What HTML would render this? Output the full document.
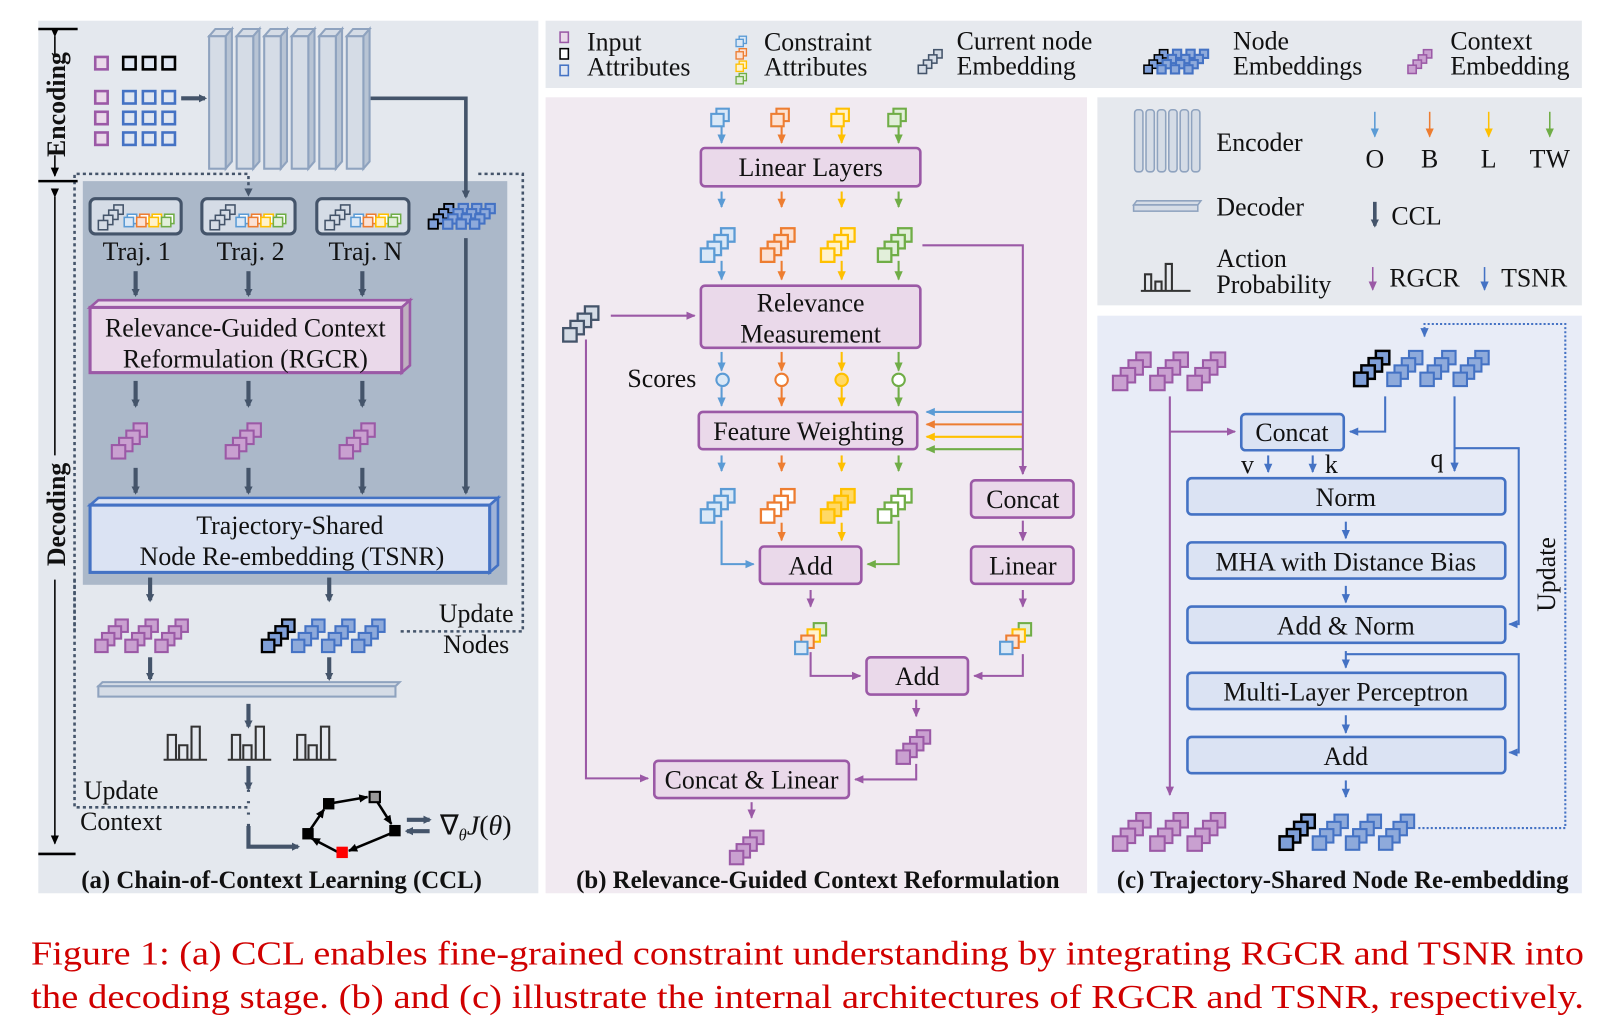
<!DOCTYPE html>
<html><head><meta charset="utf-8"><style>
html,body{margin:0;padding:0;background:#fff;}
svg{display:block;}
text{font-family:"Liberation Serif",serif;fill:#111;}
</style></head><body>
<svg id="s" width="1615" height="1033" viewBox="0 0 1560 998" preserveAspectRatio="none" xmlns="http://www.w3.org/2000/svg">
<defs>
<marker id="ad" markerWidth="8" markerHeight="8" refX="6" refY="4" orient="auto" markerUnits="userSpaceOnUse"><path d="M0,0 L8,4 L0,8 z" fill="#44546a"/></marker>
<marker id="ap" markerWidth="10" markerHeight="10" refX="8" refY="5" orient="auto" markerUnits="userSpaceOnUse"><path d="M0,1 L9,5 L0,9 z" fill="#9b59a6"/></marker>
<marker id="ab" markerWidth="10" markerHeight="10" refX="8" refY="5" orient="auto" markerUnits="userSpaceOnUse"><path d="M0,1 L9,5 L0,9 z" fill="#4472c4"/></marker>
<marker id="abl" markerWidth="10" markerHeight="10" refX="8" refY="5" orient="auto" markerUnits="userSpaceOnUse"><path d="M0,1 L9,5 L0,9 z" fill="#5b9bd5"/></marker>
<marker id="ao" markerWidth="10" markerHeight="10" refX="8" refY="5" orient="auto" markerUnits="userSpaceOnUse"><path d="M0,1 L9,5 L0,9 z" fill="#ed7d31"/></marker>
<marker id="ay" markerWidth="10" markerHeight="10" refX="8" refY="5" orient="auto" markerUnits="userSpaceOnUse"><path d="M0,1 L9,5 L0,9 z" fill="#ffc000"/></marker>
<marker id="ag" markerWidth="10" markerHeight="10" refX="8" refY="5" orient="auto" markerUnits="userSpaceOnUse"><path d="M0,1 L9,5 L0,9 z" fill="#70ad47"/></marker>
<marker id="ak" markerWidth="10" markerHeight="10" refX="8" refY="5" orient="auto" markerUnits="userSpaceOnUse"><path d="M0,1 L9,5 L0,9 z" fill="#000"/></marker>
</defs>

<rect x="37" y="20" width="483" height="843" fill="#e4e8ee"/>
<rect x="527" y="20" width="1001" height="65" fill="#e6e9ee"/>
<rect x="527" y="94" width="523" height="769" fill="#f1eaf1"/>
<rect x="1060" y="94" width="468" height="201" fill="#e6e9ee"/>
<rect x="1060" y="305" width="468" height="558" fill="#e8ecf7"/>

<!-- ========== Panel a ========== -->
<rect x="80" y="175" width="410" height="390" fill="#abb8c9"/>
<path d="M72,610 V168 H240 V188" fill="none" stroke="#44546a" stroke-width="2.5" stroke-dasharray="3,3" marker-end="url(#ad)"/>
<path d="M462,168 H505 V610 H385" fill="none" stroke="#44546a" stroke-width="2.5" stroke-dasharray="3,3"/>
<path d="M72,560 V780 H240" fill="none" stroke="#44546a" stroke-width="2.5" stroke-dasharray="3,3"/>
<line x1="37" y1="28" x2="75" y2="28" stroke="#000" stroke-width="2.5"/>
<line x1="37" y1="175" x2="75" y2="175" stroke="#000" stroke-width="2.5"/>
<line x1="37" y1="825" x2="73" y2="825" stroke="#000" stroke-width="2.5"/>
<line x1="53" y1="35" x2="53" y2="55" stroke="#000" stroke-width="1.5" marker-start="url(#ak)"/>
<line x1="53" y1="150" x2="53" y2="170" stroke="#000" stroke-width="1.5" marker-end="url(#ak)"/>
<line x1="53" y1="190" x2="53" y2="440" stroke="#000" stroke-width="1.5" marker-start="url(#ak)"/>
<line x1="53" y1="560" x2="53" y2="815" stroke="#000" stroke-width="1.5" marker-end="url(#ak)"/>
<text transform="translate(63,101) rotate(-90)" text-anchor="middle" font-size="25" font-weight="bold">Encoding</text>
<text transform="translate(63,497) rotate(-90)" text-anchor="middle" font-size="25" font-weight="bold">Decoding</text>
<g id="enc"></g>
<line x1="175" y1="95" x2="198" y2="95" stroke="#44546a" stroke-width="4" marker-end="url(#ad)"/>
<path d="M358,95 H450 V190" fill="none" stroke="#44546a" stroke-width="3.5" marker-end="url(#ad)"/>
<rect x="87" y="192" width="88" height="34" rx="5" fill="#d5dce6" stroke="#44546a" stroke-width="3"/>
<rect x="195" y="192" width="90" height="34" rx="5" fill="#d5dce6" stroke="#44546a" stroke-width="3"/>
<rect x="306" y="192" width="89" height="34" rx="5" fill="#d5dce6" stroke="#44546a" stroke-width="3"/>
<text x="132" y="251" font-size="25" text-anchor="middle">Traj. 1</text>
<text x="242" y="251" font-size="25" text-anchor="middle">Traj. 2</text>
<text x="353" y="251" font-size="25" text-anchor="middle">Traj. N</text>
<g stroke="#44546a" stroke-width="4" marker-end="url(#ad)">
<line x1="131" y1="262" x2="131" y2="285"/><line x1="240" y1="262" x2="240" y2="285"/><line x1="350" y1="262" x2="350" y2="285"/>
<line x1="131" y1="368" x2="131" y2="392"/><line x1="240" y1="368" x2="240" y2="392"/><line x1="350" y1="368" x2="350" y2="392"/>
<line x1="131" y1="452" x2="131" y2="476"/><line x1="240" y1="452" x2="240" y2="476"/><line x1="350" y1="452" x2="350" y2="476"/>
<line x1="145" y1="558" x2="145" y2="580"/><line x1="318" y1="558" x2="318" y2="580"/>
<line x1="145" y1="635" x2="145" y2="656"/><line x1="318" y1="635" x2="318" y2="656"/>
<line x1="240" y1="680" x2="240" y2="702"/><line x1="240" y1="740" x2="240" y2="762"/>
</g>
<path d="M450,230 V476" stroke="#44546a" stroke-width="3.5" marker-end="url(#ad)" fill="none"/>
<path d="M87,297 L95,290 H396 L388,297 z" fill="#ead9ea" stroke="#9b59a6" stroke-width="2.5"/>
<path d="M388,297 L396,290 V353 L388,360 z" fill="#c0b0c0" stroke="#9b59a6" stroke-width="2.5"/>
<rect x="87" y="297" width="301" height="63" fill="#ead9ea" stroke="#9b59a6" stroke-width="3"/>
<text x="237" y="325" font-size="25" text-anchor="middle">Relevance-Guided Context</text>
<text x="237" y="355" font-size="25" text-anchor="middle">Reformulation (RGCR)</text>
<path d="M87,488 L95,481 H481 L473,488 z" fill="#dbe3f3" stroke="#4472c4" stroke-width="2.5"/>
<path d="M473,488 L481,481 V546 L473,553 z" fill="#9fb3d8" stroke="#4472c4" stroke-width="2.5"/>
<rect x="87" y="488" width="386" height="65" fill="#dbe3f3" stroke="#4472c4" stroke-width="3"/>
<text x="280" y="516" font-size="25" text-anchor="middle">Trajectory-Shared</text>
<text x="282" y="546" font-size="25" text-anchor="middle">Node Re-embedding (TSNR)</text>
<text x="460" y="601" font-size="25" text-anchor="middle">Update</text>
<text x="460" y="631" font-size="25" text-anchor="middle">Nodes</text>
<path d="M95,663 L99,659 H386 L382,663 z" fill="#d5dce6" stroke="#8fa3bf" stroke-width="2"/>
<rect x="95" y="663" width="287" height="10" fill="#d5dce6" stroke="#8fa3bf" stroke-width="2"/>
<g id="hist"></g>
<text x="117" y="772" font-size="25" text-anchor="middle">Update</text>
<text x="117" y="802" font-size="25" text-anchor="middle">Context</text>
<path d="M240,763 V800" stroke="#44546a" stroke-width="3" stroke-dasharray="2,9"/>
<path d="M240,798 V818 H288" fill="none" stroke="#44546a" stroke-width="4" marker-end="url(#ad)"/>
<g stroke="#000" stroke-width="2.5" fill="none" marker-end="url(#ak)">
<line x1="298" y1="804" x2="313" y2="782"/>
<line x1="320" y1="776" x2="355" y2="770"/>
<line x1="364" y1="774" x2="378" y2="796"/>
<line x1="378" y1="805" x2="337" y2="822"/>
<line x1="326" y1="823" x2="301" y2="810"/>
</g>
<rect x="312" y="771" width="11" height="11" fill="#000"/>
<rect x="357" y="765" width="10" height="10" fill="#999" stroke="#000" stroke-width="2"/>
<rect x="376" y="797" width="11" height="11" fill="#000"/>
<rect x="325" y="818" width="11" height="11" fill="#f00"/>
<rect x="292" y="800" width="11" height="11" fill="#000"/>
<line x1="393" y1="792" x2="415" y2="792" stroke="#44546a" stroke-width="4" marker-end="url(#ad)"/>
<line x1="415" y1="803" x2="393" y2="803" stroke="#44546a" stroke-width="4" marker-end="url(#ad)"/>
<text x="425" y="806" font-size="27">∇<tspan font-size="16" dy="6" font-style="italic">θ</tspan><tspan dy="-6" font-style="italic">J</tspan>(<tspan font-style="italic">θ</tspan>)</text>
<text x="272" y="858" font-size="24" font-weight="bold" text-anchor="middle">(a) Chain-of-Context Learning (CCL)</text>

<!-- ========== Legend bar ========== -->
<text x="567" y="49" font-size="25">Input</text><text x="567" y="73" font-size="25">Attributes</text>
<text x="738" y="49" font-size="25">Constraint</text><text x="738" y="73" font-size="25">Attributes</text>
<text x="924" y="48" font-size="25">Current node</text><text x="924" y="72" font-size="25">Embedding</text>
<text x="1191" y="48" font-size="25">Node</text><text x="1191" y="72" font-size="25">Embeddings</text>
<text x="1401" y="48" font-size="25">Context</text><text x="1401" y="72" font-size="25">Embedding</text>

<!-- ========== Panel b ========== -->
<rect x="677" y="143" width="212" height="37" rx="4" fill="#ead9ea" stroke="#9b59a6" stroke-width="2.5"/>
<text x="783" y="170" font-size="25" text-anchor="middle">Linear Layers</text>
<rect x="677" y="276" width="212" height="60" rx="4" fill="#ead9ea" stroke="#9b59a6" stroke-width="2.5"/>
<text x="783" y="301" font-size="25" text-anchor="middle">Relevance</text>
<text x="783" y="331" font-size="25" text-anchor="middle">Measurement</text>
<text x="606" y="374" font-size="25">Scores</text>
<rect x="675" y="398" width="211" height="36" rx="4" fill="#ead9ea" stroke="#9b59a6" stroke-width="2.5"/>
<text x="781" y="425" font-size="25" text-anchor="middle">Feature Weighting</text>
<rect x="938" y="464" width="99" height="36" rx="4" fill="#ead9ea" stroke="#9b59a6" stroke-width="2.5"/>
<text x="988" y="491" font-size="25" text-anchor="middle">Concat</text>
<rect x="938" y="528" width="99" height="36" rx="4" fill="#ead9ea" stroke="#9b59a6" stroke-width="2.5"/>
<text x="988" y="555" font-size="25" text-anchor="middle">Linear</text>
<rect x="734" y="528" width="98" height="36" rx="4" fill="#ead9ea" stroke="#9b59a6" stroke-width="2.5"/>
<text x="783" y="555" font-size="25" text-anchor="middle">Add</text>
<rect x="837" y="635" width="98" height="36" rx="4" fill="#ead9ea" stroke="#9b59a6" stroke-width="2.5"/>
<text x="886" y="662" font-size="25" text-anchor="middle">Add</text>
<rect x="632" y="735" width="188" height="36" rx="4" fill="#ead9ea" stroke="#9b59a6" stroke-width="2.5"/>
<text x="726" y="762" font-size="25" text-anchor="middle">Concat &amp; Linear</text>
<g id="barrows"></g>
<g fill="none" stroke-width="2">
<circle cx="698" cy="367" r="6" stroke="#5b9bd5" fill="#dbe8f6"/>
<circle cx="755" cy="367" r="6" stroke="#ed7d31" fill="#fff"/>
<circle cx="813" cy="367" r="6" stroke="#ffc000" fill="#ffd966"/>
<circle cx="868" cy="367" r="6" stroke="#70ad47" fill="#fff"/>
</g>
<g fill="none" stroke-width="2">
<line x1="988" y1="398" x2="895" y2="398" stroke="#5b9bd5" marker-end="url(#abl)"/>
<line x1="988" y1="410" x2="895" y2="410" stroke="#ed7d31" marker-end="url(#ao)"/>
<line x1="988" y1="422" x2="895" y2="422" stroke="#ffc000" marker-end="url(#ay)"/>
<line x1="988" y1="434" x2="895" y2="434" stroke="#70ad47" marker-end="url(#ag)"/>
<path d="M891,237 H988 V458" stroke="#9b59a6" marker-end="url(#ap)"/>
<path d="M590,305 H671" stroke="#9b59a6" marker-end="url(#ap)"/>
<path d="M566,328 V752 H626" stroke="#9b59a6" marker-end="url(#ap)"/>
<path d="M988,503 V522" stroke="#9b59a6" marker-end="url(#ap)"/>
<path d="M988,570 V586" stroke="#9b59a6" marker-end="url(#ap)"/>
<path d="M988,632 V653 H941" stroke="#9b59a6" marker-end="url(#ap)"/>
<path d="M783,570 V586" stroke="#9b59a6" marker-end="url(#ap)"/>
<path d="M783,630 V653 H831" stroke="#9b59a6" marker-end="url(#ap)"/>
<path d="M885,676 V692" stroke="#9b59a6" marker-end="url(#ap)"/>
<path d="M885,738 V753 H826" stroke="#9b59a6" marker-end="url(#ap)"/>
<path d="M726,775 V790" stroke="#9b59a6" marker-end="url(#ap)"/>
<path d="M697,503 V545 H728" stroke="#5b9bd5" marker-end="url(#abl)"/>
<path d="M868,503 V545 H838" stroke="#70ad47" marker-end="url(#ag)"/>
<path d="M755,505 V522" stroke="#ed7d31" marker-end="url(#ao)"/>
<path d="M813,505 V522" stroke="#ffc000" marker-end="url(#ay)"/>
</g>
<text x="790" y="858" font-size="24" font-weight="bold" text-anchor="middle">(b) Relevance-Guided Context Reformulation</text>

<!-- ========== Legend 2 ========== -->
<g id="encl"></g>
<text x="1175" y="146" font-size="25">Encoder</text>
<path d="M1095,198 L1098,194 H1160 L1157,198 z" fill="#d5dce6" stroke="#8fa3bf" stroke-width="1.5"/>
<rect x="1095" y="198" width="62" height="6" fill="#d5dce6" stroke="#8fa3bf" stroke-width="1.5"/>
<text x="1175" y="208" font-size="25">Decoder</text>
<text x="1175" y="258" font-size="25">Action</text>
<text x="1175" y="283" font-size="25">Probability</text>
<g fill="none" stroke-width="1.5">
<line x1="1328" y1="108" x2="1328" y2="132" stroke="#5b9bd5" marker-end="url(#abl)"/>
<line x1="1381" y1="108" x2="1381" y2="132" stroke="#ed7d31" marker-end="url(#ao)"/>
<line x1="1438" y1="108" x2="1438" y2="132" stroke="#ffc000" marker-end="url(#ay)"/>
<line x1="1497" y1="108" x2="1497" y2="132" stroke="#70ad47" marker-end="url(#ag)"/>
<line x1="1328" y1="195" x2="1328" y2="218" stroke="#44546a" stroke-width="3.5" marker-end="url(#ad)"/>
<line x1="1326" y1="258" x2="1326" y2="280" stroke="#9b59a6" marker-end="url(#ap)"/>
<line x1="1434" y1="258" x2="1434" y2="280" stroke="#4472c4" marker-end="url(#ab)"/>
</g>
<text x="1328" y="162" font-size="25" text-anchor="middle">O</text>
<text x="1381" y="162" font-size="25" text-anchor="middle">B</text>
<text x="1438" y="162" font-size="25" text-anchor="middle">L</text>
<text x="1497" y="162" font-size="25" text-anchor="middle">TW</text>
<text x="1344" y="217" font-size="25">CCL</text>
<text x="1342" y="277" font-size="25">RGCR</text>
<text x="1450" y="277" font-size="25">TSNR</text>

<!-- ========== Panel c ========== -->
<g fill="#dbe3f3" stroke="#4472c4" stroke-width="2.5">
<rect x="1199" y="400" width="99" height="35" rx="4"/>
<rect x="1147" y="462" width="307" height="35" rx="4"/>
<rect x="1147" y="524" width="307" height="35" rx="4"/>
<rect x="1147" y="586" width="307" height="35" rx="4"/>
<rect x="1147" y="650" width="307" height="35" rx="4"/>
<rect x="1147" y="712" width="307" height="35" rx="4"/>
</g>
<text x="1248" y="426" font-size="25" text-anchor="middle">Concat</text>
<text x="1300" y="489" font-size="25" text-anchor="middle">Norm</text>
<text x="1300" y="551" font-size="25" text-anchor="middle">MHA with Distance Bias</text>
<text x="1300" y="613" font-size="25" text-anchor="middle">Add &amp; Norm</text>
<text x="1300" y="677" font-size="25" text-anchor="middle">Multi-Layer Perceptron</text>
<text x="1300" y="739" font-size="25" text-anchor="middle">Add</text>
<text x="1205" y="457" font-size="25" text-anchor="middle">v</text>
<text x="1286" y="457" font-size="25" text-anchor="middle">k</text>
<text x="1388" y="451" font-size="25" text-anchor="middle">q</text>
<text transform="translate(1502,555) rotate(-90)" font-size="25" text-anchor="middle">Update</text>
<g fill="none" stroke-width="2">
<path d="M1130,383 V768" stroke="#9b59a6" marker-end="url(#ap)"/>
<path d="M1130,417 H1193" stroke="#9b59a6" marker-end="url(#ap)"/>
<path d="M1338,383 V417 H1304" stroke="#4472c4" marker-end="url(#ab)"/>
<path d="M1405,383 V455" stroke="#4472c4" marker-end="url(#ab)"/>
<path d="M1405,433 H1467 V603 H1458" stroke="#4472c4" marker-end="url(#ab)"/>
<path d="M1300,629 V645" stroke="#4472c4" marker-end="url(#ab)"/>
<path d="M1300,632 H1467 V727 H1458" stroke="#4472c4" marker-end="url(#ab)"/>
<path d="M1225,440 V456" stroke="#4472c4" marker-end="url(#ab)"/>
<path d="M1268,440 V456" stroke="#4472c4" marker-end="url(#ab)"/>
<path d="M1300,504 V520" stroke="#4472c4" marker-end="url(#ab)"/>
<path d="M1300,566 V582" stroke="#4472c4" marker-end="url(#ab)"/>
<path d="M1300,691 V708" stroke="#4472c4" marker-end="url(#ab)"/>
<path d="M1300,754 V770" stroke="#4472c4" marker-end="url(#ab)"/>
<path d="M1370,800 H1512 V313 H1376 V325" stroke="#4472c4" stroke-dasharray="2,2" marker-end="url(#ab)"/>
</g>
<text x="1297" y="858" font-size="24" font-weight="bold" text-anchor="middle">(c) Trajectory-Shared Node Re-embedding</text>

<g id="stk"></g>

<text x="30" y="932" font-size="33" style="fill:#d00000" textLength="1500" lengthAdjust="spacingAndGlyphs">Figure 1: (a) CCL enables fine-grained constraint understanding by integrating RGCR and TSNR into</text>
<text x="30" y="974" font-size="33" style="fill:#d00000" textLength="1500" lengthAdjust="spacingAndGlyphs">the decoding stage. (b) and (c) illustrate the internal architectures of RGCR and TSNR, respectively.</text>
</svg>
<script>
(function(){
var NS="http://www.w3.org/2000/svg";
function el(p,t,a){var e=document.createElementNS(NS,t);for(var k in a)e.setAttribute(k,a[k]);p.appendChild(e);return e;}
var C={P:["#c9a0d0","#9b59a6"],B:["#8eaadb","#4472c4"],K:["#7f9fd8","#000"],G:["#d5dce6","#44546a"],
bl:["#dbe8f6","#5b9bd5"],or:["#fbe2d5","#ed7d31"],ye:["#fff2cc","#ffc000"],gr:["#e2efda","#70ad47"],
yef:["#ffd966","#ffc000"],orw:["#fff","#ed7d31"],grw:["#fff","#70ad47"],pu:["#ead9ea","#9b59a6"],k2:["#fff","#000"]};
var S=document.getElementById("stk");
function stack(x,y,n,c,s,d,sw){s=s||11;d=d||6;sw=sw||2;for(var i=n-1;i>=0;i--){el(S,"rect",{x:x+i*d,y:y-i*d,width:s,height:s,fill:C[c][0],stroke:C[c][1],"stroke-width":sw});}}
function group(x,y,list,gap,s,d){for(var j=0;j<list.length;j++)stack(x+j*gap,y,4,list[j],s,d);}
var E=document.getElementById("enc");
for(var i=0;i<6;i++){var cx=202+i*26.6;
el(E,"path",{d:"M"+cx+","+35+" l6,-7 h16 l-6,7 z",fill:"#d5dce6",stroke:"#8fa3bf","stroke-width":2});
el(E,"path",{d:"M"+(cx+16)+","+35+" l6,-7 v128 l-6,7 z",fill:"#b8c4d4",stroke:"#8fa3bf","stroke-width":2});
el(E,"rect",{x:cx,y:35,width:16,height:128,fill:"#d5dce6",stroke:"#8fa3bf","stroke-width":2});}
[55,88,108,128].forEach(function(y,r){el(S,"rect",{x:92,y:y,width:12,height:12,fill:"#ead9ea",stroke:"#9b59a6","stroke-width":2.5});
for(var k=0;k<3;k++)el(S,"rect",{x:119+k*19,y:y,width:12,height:12,fill:"#dfe6f2",stroke:r==0?"#000":"#4472c4","stroke-width":2.5});});
[95,203,314].forEach(function(x){stack(x,213,4,"G",9,5,1.5);
var cs=["bl","or","ye","gr"];for(var k=0;k<4;k++){el(S,"rect",{x:x+28+k*12,y:207,width:9,height:9,fill:"#fff",stroke:C[cs[k]][1],"stroke-width":1.5});el(S,"rect",{x:x+25+k*12,y:210,width:9,height:9,fill:C[cs[k]][0],stroke:C[cs[k]][1],"stroke-width":1.5});}});
stack(414,212,4,"K",9,5,1.8);group(428,212,["B","B","B"],13,9,5);
[108,218,328].forEach(function(x){stack(x,430,4,"P",13,7);});
group(92,618,["P","P","P"],29,12,6.5);
stack(253,618,4,"K",12,6.5,2.2);group(282,618,["B","B","B"],29,12,6.5);
var H=document.getElementById("hist");
[158,220,283].forEach(function(x){el(H,"path",{d:"M"+x+",734 h42 M"+(x+4)+",734 v-24 h8 v24 M"+(x+15)+",734 v-14 h8 v14 M"+(x+27)+",734 v-32 h8 v32",fill:"none",stroke:"#333","stroke-width":2});});
el(S,"rect",{x:541,y:31,width:8,height:10,fill:"#ead9ea",stroke:"#9b59a6","stroke-width":1.5});
el(S,"rect",{x:541,y:47,width:8,height:10,fill:"#fff",stroke:"#000","stroke-width":1.5});
el(S,"rect",{x:541,y:63,width:8,height:10,fill:"#dfe6f2",stroke:"#4472c4","stroke-width":1.5});
["bl","or","ye","gr"].forEach(function(c,k){stack(711,38+k*12,2,c,7,3,1.3);});
stack(887,63,4,"G",8,5,1.5);
stack(1105,63,4,"K",8,5,1.5);group(1118,63,["B","B","B"],13,8,5);
stack(1360,63,4,"P",8,5,1.5);
var L=document.getElementById("encl");
for(var i=0;i<6;i++){el(L,"rect",{x:1096+i*11,y:106,width:8,height:60,rx:3,fill:"#d5dce6",stroke:"#8fa3bf","stroke-width":1.5});}
el(L,"path",{d:"M1102,281 h48 M1106,281 v-16 h6 v16 M1116,281 v-9 h6 v9 M1126,281 v-26 h6 v26",fill:"none",stroke:"#333","stroke-width":2});
var cols=[697,755,813,868],cn=["bl","or","ye","gr"],mk=["abl","ao","ay","ag"];
var BA=document.getElementById("barrows");
cols.forEach(function(x,k){
stack(x-10,110,2,cn[k],12,5,2);
[[120,138],[185,200],[252,270],[340,358],[374,392],[440,455]].forEach(function(p){el(BA,"line",{x1:x,y1:p[0],x2:x,y2:p[1],stroke:C[cn[k]][1],"stroke-width":2,"marker-end":"url(#"+mk[k]+")"});});
stack(x-20,240,4,cn[k],13,6.5,2.2);
var c2=["bl","orw","yef","grw"][k];stack(x-20,492,4,c2,13,6.5,2.2);
});
stack(544,317,4,"G",13,7,2.2);
function mix(x,y){var cs=["bl","or","ye","gr"];for(var i=3;i>=0;i--)el(S,"rect",{x:x+i*6,y:y-i*6,width:12,height:12,fill:C[cs[i]][0],stroke:C[cs[i]][1],"stroke-width":2});}
mix(768,620);mix(966,620);
stack(866,725,4,"P",13,6.5);stack(705,822,4,"P",13,6.5);
group(1075,363,["P","P","P"],36,14,7.5);
stack(1308,360,4,"K",13,7,2.4);group(1340,360,["B","B","B"],32,13,7);
group(1075,808,["P","P","P"],36,14,7.5);
stack(1236,808,4,"K",13,7,2.4);group(1268,808,["B","B","B"],32,13,7);
})();
</script>
</body></html>
